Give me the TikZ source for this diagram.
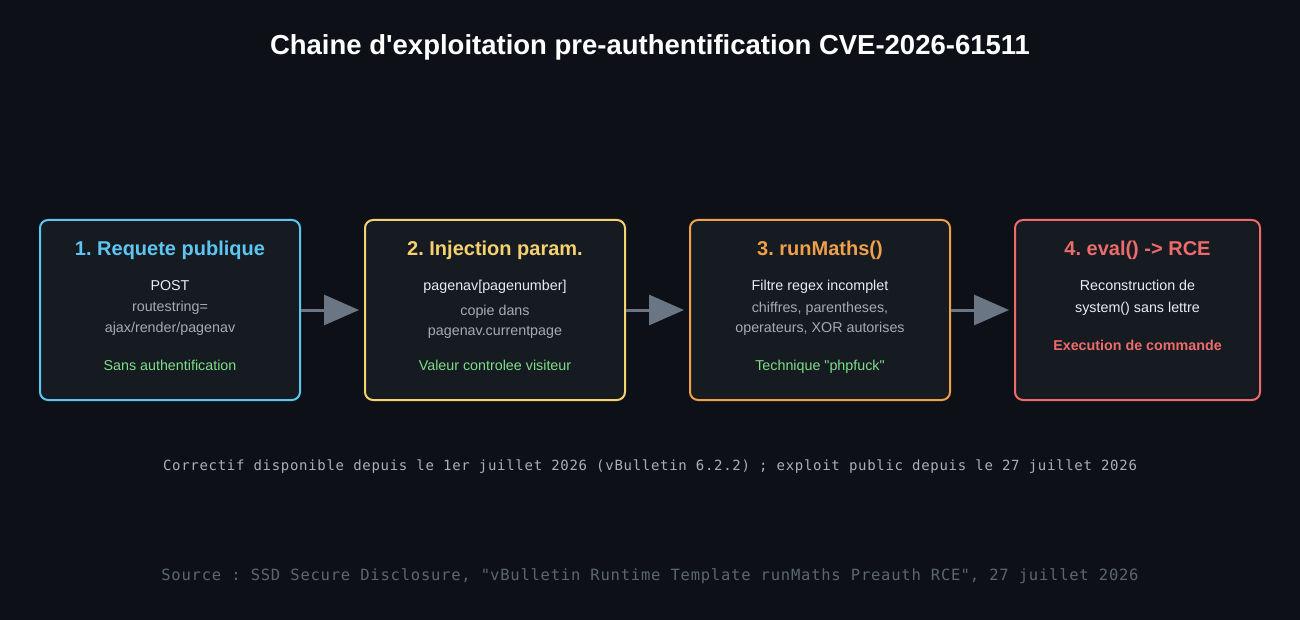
\documentclass[tikz,border=0pt]{standalone}
\usepackage{fontspec}
\setmainfont{Liberation Sans}
\newfontfamily\monof[LetterSpace=5]{DejaVu Sans Mono}
\usetikzlibrary{arrows.meta}
\frenchspacing
\definecolor{bgc}{HTML}{0D1117}
\definecolor{boxfill}{HTML}{161B22}
\definecolor{cblue}{HTML}{5CC5F2}
\definecolor{cyellow}{HTML}{F5D170}
\definecolor{corange}{HTML}{F0A048}
\definecolor{cred}{HTML}{EE6B6B}
\definecolor{cgreen}{HTML}{7EDD86}
\definecolor{cgray}{HTML}{A3ABB5}
\definecolor{cwhite}{HTML}{E8EDF2}
\definecolor{cfoot}{HTML}{A8B0B8}
\definecolor{cfootdim}{HTML}{5C6670}
\definecolor{carrow}{HTML}{6B7684}
\tikzset{
  stepbox/.style={draw=#1, line width=2pt, fill=boxfill, rounded corners=8pt,
    minimum height=180pt, inner sep=0pt},
  boxtitle/.style={text=#1, font=\fontsize{20}{24}\selectfont\bfseries, inner sep=0pt, anchor=base},
  wline/.style={text=cwhite, font=\fontsize{14.3}{16}\selectfont, inner sep=0pt, anchor=base},
  gline/.style={text=cgray, font=\fontsize{14.3}{16}\selectfont, inner sep=0pt, anchor=base},
  okline/.style={text=cgreen, font=\fontsize{14.3}{16}\selectfont, inner sep=0pt, anchor=base},
  flow/.style={draw=carrow, line width=3pt, -{Triangle[length=35pt,width=30pt]}, shorten >=5pt},
  footline/.style={text=#1, font=\monof\fontsize{14}{16}\selectfont, inner sep=0pt, anchor=base},
}
\begin{document}
\begin{tikzpicture}[x=1pt,y=-1pt]
\fill[bgc] (0,0) rectangle (1300,620);
\useasboundingbox (0,0) rectangle (1300,620);
\node[text=white, font=\fontsize{27.5}{32}\selectfont\bfseries, anchor=base] (title) at (650,55) {Chaine d\textquotesingle exploitation pre-authentification CVE-2026-61511};

\node[stepbox=cblue, minimum width=260pt] (b1) at (170,310) {};
\node[stepbox=cyellow, minimum width=260pt] (b2) at (495,310) {};
\node[stepbox=corange, minimum width=260pt] (b3) at (820,310) {};
\node[stepbox=cred, minimum width=245pt] (b4) at (1137.5,310) {};

\node[boxtitle=cblue] (t1) at (170,255) {1. Requete publique};
\node[wline] (l11) at (170,290) {POST};
\node[gline] (l12) at (170,311) {routestring=};
\node[gline] (l13) at (170,332) {ajax/render/pagenav};
\node[okline] (l14) at (170,370) {Sans authentification};

\node[boxtitle=cyellow] (t2) at (495,255) {2. Injection param.};
\node[wline] (l21) at (495,290) {pagenav[pagenumber]};
\node[gline] (l22) at (495,315) {copie dans};
\node[gline] (l23) at (495,335) {pagenav.currentpage};
\node[okline] (l24) at (495,370) {Valeur controlee visiteur};

\node[boxtitle=corange] (t3) at (820,255) {3. runMaths()};
\node[wline] (l31) at (820,290) {Filtre regex incomplet};
\node[gline] (l32) at (820,312) {chiffres, parentheses,};
\node[gline] (l33) at (820,332) {operateurs, XOR autorises};
\node[okline] (l34) at (820,370) {Technique \textquotedbl phpfuck\textquotedbl};

\node[boxtitle=cred] (t4) at (1137.5,255) {4. eval() -> RCE};
\node[wline] (l41) at (1137.5,290) {Reconstruction de};
\node[wline] (l42) at (1137.5,312) {system() sans lettre};
\node[text=cred, font=\fontsize{14.3}{16}\selectfont\bfseries, inner sep=0pt, anchor=base] (l43) at (1137.5,350) {Execution de commande};

\draw[flow] (b1.east) -- (b2.west);
\draw[flow] (b2.east) -- (b3.west);
\draw[flow] (b3.east) -- (b4.west);

\node[footline=cfoot] (f1) at (650,470) {Correctif disponible depuis le 1er juillet 2026 (vBulletin 6.2.2) ; exploit public depuis le 27 juillet 2026};
\node[footline=cfootdim, font=\monof\fontsize{15.5}{18}\selectfont] (f2) at (650,580) {Source : SSD Secure Disclosure, \textquotedbl vBulletin Runtime Template runMaths Preauth RCE\textquotedbl, 27 juillet 2026};
\end{tikzpicture}
\end{document}
